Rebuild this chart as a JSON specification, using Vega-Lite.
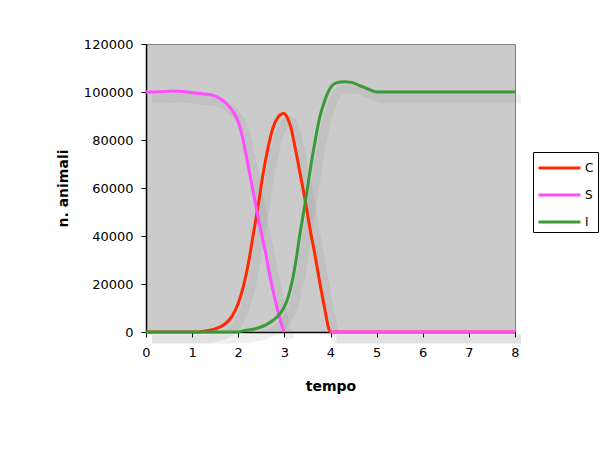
{
  "$schema": "https://vega.github.io/schema/vega-lite/v6.json",
  "width": 369,
  "height": 288,
  "autosize": {"type": "none"},
  "padding": {"left": 146, "top": 44, "right": 94, "bottom": 117},
  "background": "white",
  "config": {
    "font": "DejaVu Sans",
    "view": {"fill": "#cbcbcb", "stroke": "#808080", "strokeWidth": 1},
    "axis": {"grid": false, "domainColor": "#000000", "tickColor": "#000000", "labelColor": "#000000", "titleColor": "#000000", "labelFont": "DejaVu Sans", "titleFont": "DejaVu Sans", "labelFontSize": 13, "titleFontSize": 14, "titleFontWeight": "bold", "tickSize": 5, "domainWidth": 1.5}
  },
  "data": {"values": [
    {"t": 0, "s": "C", "v": 0}, {"t": 0.5, "s": "C", "v": 0}, {"t": 1.0, "s": "C", "v": 0}, {"t": 1.15, "s": "C", "v": 0},
    {"t": 1.3, "s": "C", "v": 500}, {"t": 1.5, "s": "C", "v": 1300}, {"t": 1.68, "s": "C", "v": 2900}, {"t": 1.86, "s": "C", "v": 6400},
    {"t": 2.0, "s": "C", "v": 12000}, {"t": 2.11, "s": "C", "v": 18900}, {"t": 2.22, "s": "C", "v": 28600}, {"t": 2.33, "s": "C", "v": 41100},
    {"t": 2.44, "s": "C", "v": 53600}, {"t": 2.54, "s": "C", "v": 66100}, {"t": 2.65, "s": "C", "v": 77200}, {"t": 2.76, "s": "C", "v": 85500},
    {"t": 2.87, "s": "C", "v": 89700}, {"t": 2.98, "s": "C", "v": 91000}, {"t": 3.06, "s": "C", "v": 89500}, {"t": 3.13, "s": "C", "v": 86000},
    {"t": 3.23, "s": "C", "v": 77200}, {"t": 3.34, "s": "C", "v": 66100}, {"t": 3.45, "s": "C", "v": 55000}, {"t": 3.56, "s": "C", "v": 42500},
    {"t": 3.67, "s": "C", "v": 31400}, {"t": 3.77, "s": "C", "v": 20300}, {"t": 3.88, "s": "C", "v": 9200}, {"t": 3.96, "s": "C", "v": 1500},
    {"t": 3.99, "s": "C", "v": 0}, {"t": 5, "s": "C", "v": 0}, {"t": 6, "s": "C", "v": 0}, {"t": 7, "s": "C", "v": 0}, {"t": 8, "s": "C", "v": 0},
    {"t": 0, "s": "S", "v": 100000}, {"t": 0.3, "s": "S", "v": 100100}, {"t": 0.55, "s": "S", "v": 100400}, {"t": 0.8, "s": "S", "v": 100200},
    {"t": 1.0, "s": "S", "v": 99700}, {"t": 1.25, "s": "S", "v": 99200}, {"t": 1.45, "s": "S", "v": 98600}, {"t": 1.55, "s": "S", "v": 97900},
    {"t": 1.64, "s": "S", "v": 96800}, {"t": 1.75, "s": "S", "v": 95000}, {"t": 1.89, "s": "S", "v": 91800}, {"t": 1.97, "s": "S", "v": 89000},
    {"t": 2.04, "s": "S", "v": 85200}, {"t": 2.15, "s": "S", "v": 75800}, {"t": 2.26, "s": "S", "v": 64700},
    {"t": 2.36, "s": "S", "v": 55000}, {"t": 2.47, "s": "S", "v": 43900}, {"t": 2.58, "s": "S", "v": 34200}, {"t": 2.69, "s": "S", "v": 23000},
    {"t": 2.8, "s": "S", "v": 13300}, {"t": 2.91, "s": "S", "v": 5000}, {"t": 2.99, "s": "S", "v": 0},
    {"t": 3.5, "s": "S", "v": null},
    {"t": 4.0, "s": "S", "v": 0}, {"t": 5, "s": "S", "v": 0}, {"t": 6, "s": "S", "v": 0}, {"t": 7, "s": "S", "v": 0}, {"t": 8, "s": "S", "v": 0},
    {"t": 0, "s": "I", "v": 0}, {"t": 1, "s": "I", "v": 0}, {"t": 1.5, "s": "I", "v": 0}, {"t": 1.95, "s": "I", "v": 0},
    {"t": 2.15, "s": "I", "v": 600}, {"t": 2.4, "s": "I", "v": 1500}, {"t": 2.6, "s": "I", "v": 3000}, {"t": 2.75, "s": "I", "v": 4800},
    {"t": 2.91, "s": "I", "v": 7800}, {"t": 3.0, "s": "I", "v": 10500}, {"t": 3.09, "s": "I", "v": 15000}, {"t": 3.23, "s": "I", "v": 27200},
    {"t": 3.34, "s": "I", "v": 41100}, {"t": 3.45, "s": "I", "v": 53600}, {"t": 3.56, "s": "I", "v": 67500}, {"t": 3.67, "s": "I", "v": 80000},
    {"t": 3.77, "s": "I", "v": 89700}, {"t": 3.88, "s": "I", "v": 96700}, {"t": 3.99, "s": "I", "v": 101500}, {"t": 4.14, "s": "I", "v": 103900},
    {"t": 4.3, "s": "I", "v": 104300}, {"t": 4.46, "s": "I", "v": 104000}, {"t": 4.64, "s": "I", "v": 102600}, {"t": 4.82, "s": "I", "v": 101200},
    {"t": 4.92, "s": "I", "v": 100400}, {"t": 5.0, "s": "I", "v": 100000}, {"t": 6, "s": "I", "v": 100000}, {"t": 7, "s": "I", "v": 100000}, {"t": 8, "s": "I", "v": 100000}
  ]},
  "encoding": {
    "x": {"field": "t", "type": "quantitative", "title": "tempo",
      "scale": {"domain": [0, 8], "nice": false, "zero": false},
      "axis": {"values": [0, 1, 2, 3, 4, 5, 6, 7, 8], "labelPadding": 9, "titlePadding": 20, "labelFlush": false}},
    "y": {"field": "v", "type": "quantitative", "title": "n. animali",
      "scale": {"domain": [0, 120000], "nice": false},
      "axis": {"values": [0, 20000, 40000, 60000, 80000, 100000, 120000], "format": "d", "labelPadding": 8, "titlePadding": 13}}
  },
  "layer": [
    {
      "mark": {"type": "line", "color": "#7a7a7a", "strokeWidth": 9, "opacity": 0.12, "xOffset": 6, "yOffset": 7, "interpolate": "monotone", "invalid": "break-paths-show-domains", "clip": false},
      "encoding": {"detail": {"field": "s"}}
    },
    {
      "mark": {"type": "line", "strokeWidth": 3, "interpolate": "monotone", "invalid": "break-paths-show-domains"},
      "encoding": {
        "color": {"field": "s", "type": "nominal", "title": null,
          "scale": {"domain": ["C", "S", "I"], "range": ["#ff2a00", "#ff4dff", "#3a9a3a"]},
          "legend": {"orient": "none", "legendX": 387, "legendY": 108, "direction": "vertical",
            "symbolType": "M-1,0H3", "symbolSize": 441, "symbolStrokeWidth": 3, "symbolFillColor": null,
            "labelOffset": 24, "labelFontSize": 12, "labelColor": "#000000", "labelFont": "DejaVu Sans",
            "padding": 4, "rowPadding": 9, "strokeColor": "#000000", "fillColor": "#ffffff"}}
      }
    }
  ]
}
